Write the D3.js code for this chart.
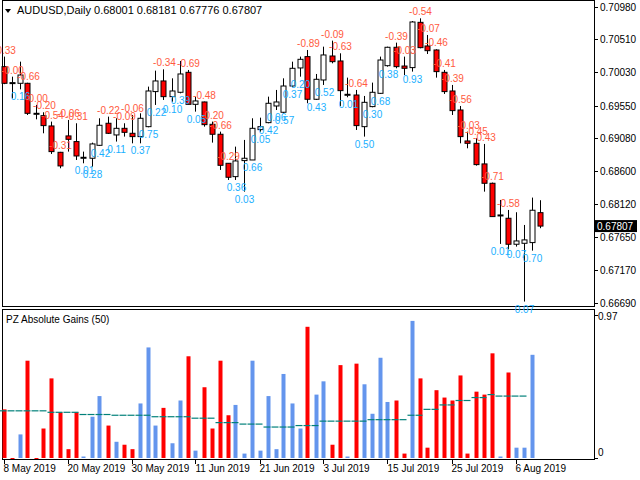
<!DOCTYPE html>
<html><head><meta charset="utf-8">
<script src="https://cdn.jsdelivr.net/npm/d3@7"></script>
<style>body{margin:0;background:#fff}svg{display:block;font-family:"Liberation Sans",Arial,sans-serif}</style>
</head><body><svg id="c" width="640" height="480"></svg>
<script>
// daily candles, AUDUSD
const opens = [0.70113,0.69882,0.69872,0.69872,0.69438,0.69404,0.69255,0.68874,0.69111,0.69029,0.68802,0.68788,0.68975,0.69294,0.69125,0.69221,0.69149,0.69101,0.69245,0.69752,0.69906,0.69679,0.69742,0.70031,0.69568,0.69602,0.69279,0.69135,0.68715,0.68522,0.68754,0.68763,0.69202,0.69303,0.69544,0.69453,0.69833,0.70094,0.70258,0.69641,0.69920,0.70267,0.70195,0.69713,0.69703,0.69245,0.69535,0.69727,0.70127,0.70393,0.70122,0.70099,0.70754,0.70412,0.70354,0.70031,0.69761,0.69486,0.69038,0.69004,0.68706,0.68426,0.67968,0.67920,0.67544,0.67558,0.67568,0.68001];
const highs = [0.70258,0.69968,0.70185,0.69880,0.69559,0.69453,0.69318,0.68880,0.69342,0.69294,0.68884,0.69014,0.69366,0.69390,0.69366,0.69294,0.69414,0.69438,0.69824,0.70055,0.70074,0.69944,0.70195,0.70065,0.69679,0.69607,0.69318,0.69173,0.68715,0.68956,0.69053,0.69366,0.69375,0.69679,0.69776,0.69944,0.70185,0.70258,0.70354,0.70007,0.70402,0.70489,0.70306,0.69954,0.69776,0.69689,0.69882,0.70258,0.70402,0.70460,0.70258,0.70773,0.70812,0.70571,0.70364,0.70065,0.69848,0.69544,0.69173,0.69077,0.68995,0.68436,0.68185,0.68040,0.68007,0.67823,0.68219,0.68181];
const lows = [0.69860,0.69655,0.69785,0.69414,0.69351,0.69149,0.68850,0.68643,0.68884,0.68763,0.68715,0.68667,0.68966,0.69139,0.69029,0.69101,0.69004,0.69004,0.69236,0.69559,0.69631,0.69607,0.69727,0.69568,0.69462,0.69245,0.69014,0.68619,0.68474,0.68474,0.68305,0.68763,0.69173,0.69294,0.69486,0.69438,0.69814,0.69968,0.69583,0.69631,0.69848,0.70161,0.69544,0.69670,0.69197,0.69101,0.69525,0.69718,0.70113,0.70089,0.69992,0.70041,0.70378,0.70296,0.69954,0.69718,0.69414,0.69004,0.68932,0.68681,0.68305,0.67944,0.67549,0.67472,0.67510,0.66715,0.67452,0.67776];
const closes = [0.69872,0.69882,0.69992,0.69438,0.69438,0.69260,0.68884,0.68677,0.69062,0.68821,0.68802,0.68995,0.69265,0.69149,0.69221,0.69163,0.69101,0.69366,0.69761,0.69906,0.69679,0.69761,0.70007,0.69568,0.69617,0.69274,0.69135,0.68686,0.68513,0.68749,0.68788,0.69221,0.69245,0.69583,0.69602,0.69833,0.70089,0.70219,0.69641,0.69930,0.70282,0.70185,0.69766,0.69713,0.69260,0.69597,0.69742,0.70209,0.70393,0.70113,0.70089,0.70759,0.70388,0.70344,0.70041,0.69752,0.69477,0.69101,0.69004,0.68696,0.68426,0.67944,0.67968,0.67544,0.67592,0.67607,0.68036,0.67807];
// signed absolute gains (negative = bearish)
const gains = [-0.33,-0.00,0.16,-0.66,-0.00,-0.20,-0.54,-0.31,-0.06,-0.31,0.01,0.28,0.42,-0.22,0.11,-0.09,-0.06,0.37,0.75,0.22,-0.34,0.10,0.39,-0.69,0.05,-0.48,-0.20,-0.66,-0.29,0.36,0.03,0.66,0.05,0.42,0.06,0.57,0.37,0.20,-0.89,0.43,0.52,-0.09,-0.63,0.01,-0.64,0.50,0.30,0.68,0.38,-0.39,-0.03,0.93,-0.54,-0.07,-0.46,-0.41,-0.39,-0.56,-0.03,-0.45,-0.43,-0.71,0.01,-0.58,0.07,0.07,0.70];
const avgGains = [0.32,0.32,0.32,0.32,0.32,0.32,0.31,0.31,0.31,0.31,0.295,0.295,0.295,0.295,0.29,0.29,0.29,0.29,0.29,0.28,0.28,0.28,0.28,0.28,0.27,0.27,0.27,0.24,0.24,0.24,0.23,0.23,0.23,0.21,0.21,0.21,0.21,0.22,0.22,0.22,0.25,0.25,0.25,0.25,0.25,0.25,0.26,0.26,0.26,0.26,0.26,0.29,0.29,0.33,0.33,0.36,0.36,0.39,0.39,0.41,0.41,0.43,0.42,0.42,0.42,0.42];
const priceTicks = [0.70980,0.70510,0.70030,0.69550,0.69080,0.68600,0.68120,0.67650,0.67170,0.66690];
const dateTickIdx = [0,8,16,24,32,40,48,56,64];
const dateTickLabels = ['8 May 2019','20 May 2019','30 May 2019','11 Jun 2019','21 Jun 2019','3 Jul 2019','15 Jul 2019','25 Jul 2019','6 Aug 2019'];

const svg = d3.select('#c');
const x = d3.scaleLinear().domain([0, 67]).range([3.5, 539.5]);
const y = d3.scaleLinear().domain([0.66690, 0.70980]).range([303.3, 6.7]);
const yg = d3.scaleLinear().domain([0, 0.97]).range([458, 315]);

// frames
svg.append('rect').attr('x', 2.5).attr('y', 0.5).attr('width', 592).attr('height', 306).attr('fill', 'none').attr('stroke', '#000');
svg.append('rect').attr('x', 2.5).attr('y', 309.5).attr('width', 592).attr('height', 150).attr('fill', 'none').attr('stroke', '#000');

// price axis
const pa = svg.append('g').attr('font-size', 10);
priceTicks.forEach(p => {
	pa.append('line').attr('x1', 594).attr('x2', 598).attr('y1', Math.round(y(p)) + 0.5).attr('y2', Math.round(y(p)) + 0.5).attr('stroke', '#000');
	pa.append('text').attr('x', 600).attr('y', y(p) + 4).text(p.toFixed(5));
});

// candles
const candles = svg.append('g').selectAll('g').data(opens).join('g');
candles.append('line')
	.attr('x1', (d, i) => Math.round(x(i)) + 0.5).attr('x2', (d, i) => Math.round(x(i)) + 0.5)
	.attr('y1', (d, i) => y(highs[i])).attr('y2', (d, i) => y(lows[i]))
	.attr('stroke', '#000');
candles.append('rect')
	.attr('x', (d, i) => Math.round(x(i)) - 2)
	.attr('y', (d, i) => y(Math.max(d, closes[i])))
	.attr('width', 5)
	.attr('height', (d, i) => Math.max(1, Math.abs(y(d) - y(closes[i]))))
	.attr('fill', (d, i) => closes[i] < d ? '#ff0000' : '#fff')
	.attr('stroke', '#000');

// gain labels
svg.append('g').attr('font-size', 10).selectAll('text').data(gains).join('text')
	.attr('x', (d, i) => x(i) + 1)
	.attr('y', (d, i) => d < 0 || Object.is(d, -0) ? y(highs[i]) - 3 : y(lows[i]) + 11)
	.attr('text-anchor', 'middle')
	.attr('fill', d => d < 0 || Object.is(d, -0) ? '#ff5a40' : '#1ab0ff')
	.text(d => (d < 0 || Object.is(d, -0) ? '-' : '') + Math.abs(d).toFixed(2));

// last price box
svg.append('rect').attr('x', 595).attr('y', y(0.67807) - 6).attr('width', 42).attr('height', 12).attr('fill', '#000');
svg.append('text').attr('x', 597).attr('y', y(0.67807) + 4).attr('font-size', 10).attr('fill', '#fff').text('0.67807');

// header
svg.append('path').attr('d', 'M5,9 L11,9 L8,13 Z').attr('fill', '#000');
svg.append('text').attr('x', 17).attr('y', 14).attr('font-size', 11).text('AUDUSD,Daily  0.68001 0.68181 0.67776 0.67807');

// lower panel
svg.append('g').selectAll('rect').data(gains).join('rect')
	.attr('x', (d, i) => Math.round(x(i)) - 1.5)
	.attr('y', d => yg(Math.abs(d)))
	.attr('width', 4)
	.attr('height', d => Math.max(1, 458 - yg(Math.abs(d))))
	.attr('fill', d => d < 0 || Object.is(d, -0) ? '#ff0000' : '#6495ed');
svg.append('g').selectAll('line').data(avgGains).join('line')
	.attr('x1', (d, i) => x(i) - 4).attr('x2', (d, i) => x(i) + 3)
	.attr('y1', d => yg(d)).attr('y2', d => yg(d))
	.attr('stroke', '#00807a').attr('stroke-width', 1.2);
svg.append('text').attr('x', 6).attr('y', 323).attr('font-size', 10).text('PZ Absolute Gains (50)');
svg.append('line').attr('x1', 594).attr('x2', 598).attr('y1', 315.5).attr('y2', 315.5).attr('stroke', '#000');
svg.append('text').attr('x', 598).attr('y', 320).attr('font-size', 10).text('0.97');
svg.append('line').attr('x1', 594).attr('x2', 598).attr('y1', 458.5).attr('y2', 458.5).attr('stroke', '#000');
svg.append('text').attr('x', 598).attr('y', 456).attr('font-size', 10).text('0');

// date axis
const da = svg.append('g').attr('font-size', 10);
dateTickIdx.forEach((k, j) => {
	da.append('line').attr('x1', Math.round(x(k)) + 0.5).attr('x2', Math.round(x(k)) + 0.5).attr('y1', 460).attr('y2', 464).attr('stroke', '#000');
	da.append('text').attr('x', x(k)).attr('y', 472).text(dateTickLabels[j]);
});
</script></body></html>
